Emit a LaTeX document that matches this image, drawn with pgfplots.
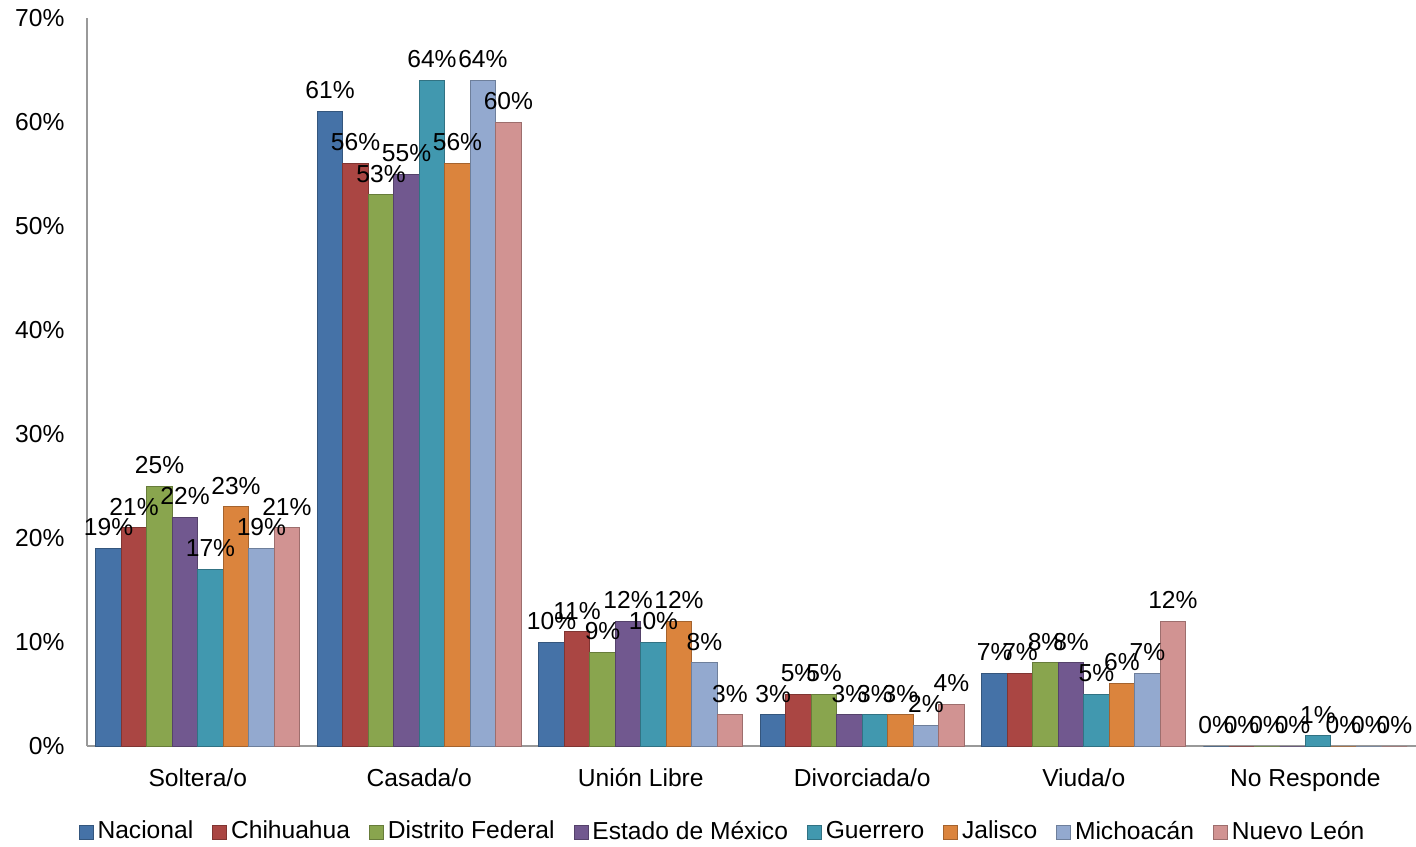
\documentclass[border=0pt]{standalone}
\usepackage{pgfplots}
\pgfplotsset{compat=1.18}
\usepackage{fontspec}
\setmainfont{Liberation Sans}
\definecolor{cNac}{HTML}{4572A7}
\definecolor{cChi}{HTML}{AA4643}
\definecolor{cDF}{HTML}{89A54E}
\definecolor{cMex}{HTML}{71588F}
\definecolor{cGro}{HTML}{4198AF}
\definecolor{cJal}{HTML}{DB843D}
\definecolor{cMich}{HTML}{93A9CF}
\definecolor{cNL}{HTML}{D19392}
\begin{document}
\begin{tikzpicture}
\fontsize{12.3}{15}\selectfont
\path[use as bounding box] (-43.5pt,-50pt) rectangle (664.5pt,373pt);
\begin{axis}[
    at={(0,0)}, anchor=south west,
    scale only axis, width=664.5pt, height=364pt,
    ybar=0pt, bar width=0.115,
    xmin=-0.5, xmax=5.5, ymin=0, ymax=70,
    axis x line*=bottom, axis y line*=left,
    axis line style={gray!80, line width=0.8pt},
    xtick={0,...,5}, major tick length=0pt,
    xticklabels={Soltera/o,Casada/o,Unión Libre,Divorciada/o,Viuda/o,No Responde},
    xticklabel style={yshift=-7pt},
    ytick={0,10,...,70},
    yticklabel={\pgfmathprintnumber{\tick}\%},
    yticklabel style={xshift=-7pt},
    /pgf/number format/assume math mode=true,
    tick label style={font=\fontsize{12.3}{15}\selectfont},
    nodes near coords={\pgfmathprintnumber{\pgfplotspointmeta}\%},
    every node near coord/.append style={font=\fontsize{12.3}{15}\selectfont, inner sep=2pt, yshift=4pt},
    clip=false,
    legend style={at={(0.479,-0.118)}, anchor=center, draw=none, legend columns=-1,
        font=\fontsize{12.3}{15}\selectfont,
        /tikz/every even column/.append style={column sep=7.5pt}},
    legend image code/.code={\draw[#1] (0pt,-3.5pt) rectangle (7pt,3.5pt);},
]
\addplot[fill=cNac, draw=cNac!75!black] coordinates {(0,19) (1,61) (2,10) (3,3) (4,7) (5,0)};
\addplot[fill=cChi, draw=cChi!75!black] coordinates {(0,21) (1,56) (2,11) (3,5) (4,7) (5,0)};
\addplot[fill=cDF, draw=cDF!75!black] coordinates {(0,25) (1,53) (2,9) (3,5) (4,8) (5,0)};
\addplot[fill=cMex, draw=cMex!75!black] coordinates {(0,22) (1,55) (2,12) (3,3) (4,8) (5,0)};
\addplot[fill=cGro, draw=cGro!75!black] coordinates {(0,17) (1,64) (2,10) (3,3) (4,5) (5,1)};
\addplot[fill=cJal, draw=cJal!75!black] coordinates {(0,23) (1,56) (2,12) (3,3) (4,6) (5,0)};
\addplot[fill=cMich, draw=cMich!75!black] coordinates {(0,19) (1,64) (2,8) (3,2) (4,7) (5,0)};
\addplot[fill=cNL, draw=cNL!75!black] coordinates {(0,21) (1,60) (2,3) (3,4) (4,12) (5,0)};
\legend{Nacional,Chihuahua,Distrito Federal,Estado de México,Guerrero,Jalisco,Michoacán,Nuevo León}
\end{axis}
\end{tikzpicture}
\end{document}
